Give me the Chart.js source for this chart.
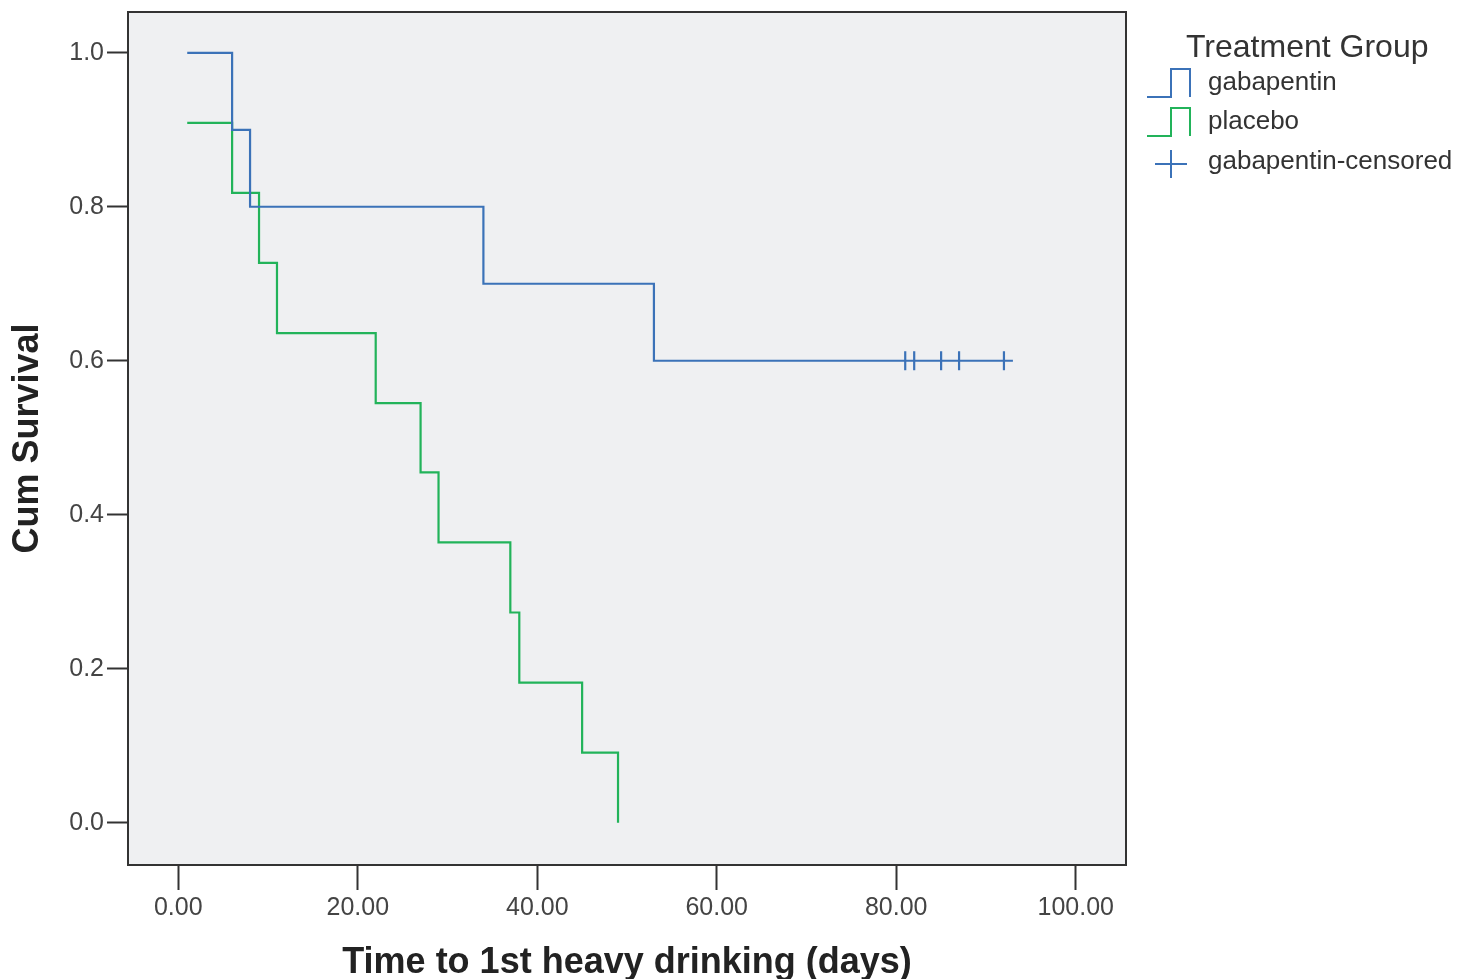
<!DOCTYPE html>
<html>
<head>
<meta charset="utf-8">
<script src="https://cdn.jsdelivr.net/npm/chart.js@4/dist/chart.umd.min.js"></script>
<style>
  html, body { margin: 0; padding: 0; background: #fff; }
  #wrap { width: 1459px; height: 979px; }
</style>
</head>
<body>
<div id="wrap"><canvas id="kmChart" width="1459" height="979"></canvas></div>
<script>
// data
var gabaTimes = [1, 6, 8, 34, 53, 93];
var gabaSurv = [1.0, 0.9, 0.8, 0.7, 0.6, 0.6];
var placeboTimes = [1, 6, 9, 11, 22, 27, 29, 37, 38, 45, 49];
var placeboSurv = [0.909, 0.818, 0.727, 0.636, 0.545, 0.455, 0.364, 0.273, 0.182, 0.091, 0.0];
var censTimes = [81, 82, 85, 87, 92];
var censSurv = [0.6, 0.6, 0.6, 0.6, 0.6];
var xTickVals = [0, 20, 40, 60, 80, 100];
var yTickVals = [0, 0.2, 0.4, 0.6, 0.8, 1.0];
var seriesNames = ["gabapentin", "placebo", "gabapentin-censored"];
var legendTitle = "Treatment Group";

var BLUE = "#3b72b8";
var GREEN = "#22b35a";
var AXIS = "#333333";
var FONT = "'Liberation Sans', Arial, Helvetica, sans-serif";

function pts(xs, ys) {
        return xs.map(function (x, i) { return { x: x, y: ys[i] }; });
}

// plot background + box + legend
var kmDecor = {
  id: 'kmDecor',
  beforeDatasetsDraw: function (chart) {
        var a = chart.chartArea, ctx = chart.ctx;
        ctx.save();
        ctx.fillStyle = "#eff0f2";
        ctx.fillRect(a.left, a.top, a.right - a.left, a.bottom - a.top);
        ctx.restore();
  },
  afterDraw: function (chart) {
        var a = chart.chartArea, ctx = chart.ctx;
        ctx.save();
        ctx.strokeStyle = AXIS;
        ctx.lineWidth = 2;
        ctx.strokeRect(a.left, a.top, a.right - a.left, a.bottom - a.top);

        // legend
        ctx.fillStyle = "#333";
        ctx.textBaseline = "middle";
        ctx.textAlign = "left";
        ctx.font = "32px " + FONT;
        ctx.fillText(legendTitle, 1186, 48);

        ctx.font = "26px " + FONT;
        var rows = [83, 122, 162];
        var colors = [BLUE, GREEN, BLUE];
        for (var i = 0; i < 3; i++) {
                var cy = rows[i];
                ctx.strokeStyle = colors[i];
                ctx.lineWidth = 2;
                ctx.beginPath();
                if (i < 2) {
                        ctx.moveTo(1147, cy + 14);
                        ctx.lineTo(1171, cy + 14);
                        ctx.lineTo(1171, cy - 14);
                        ctx.lineTo(1190, cy - 14);
                        ctx.lineTo(1190, cy + 14);
                } else {
                        ctx.moveTo(1155, cy + 2);
                        ctx.lineTo(1187, cy + 2);
                        ctx.moveTo(1171, cy - 12);
                        ctx.lineTo(1171, cy + 16);
                }
                ctx.stroke();
                ctx.fillStyle = "#333";
                ctx.fillText(seriesNames[i], 1208, cy);
        }
        ctx.restore();
  }
};

var kmConfig = {
  type: 'scatter',
  data: {
        datasets: [
        {
          label: seriesNames[0],
          data: pts(gabaTimes, gabaSurv),
          showLine: true,
          stepped: 'before',
          borderColor: BLUE,
          borderWidth: 2.2,
          pointRadius: 0
        },
        {
          label: seriesNames[1],
          data: pts(placeboTimes, placeboSurv),
          showLine: true,
          stepped: 'before',
          borderColor: GREEN,
          borderWidth: 2.2,
          pointRadius: 0
        },
        {
          label: seriesNames[2],
          data: pts(censTimes, censSurv),
          showLine: false,
          pointStyle: 'line',
          rotation: 90,
          pointRadius: 9.5,
          borderColor: BLUE,
          backgroundColor: BLUE,
          borderWidth: 2.2
        }
        ]
  },
  options: {
        responsive: false,
        animation: false,
        events: [],
        layout: { padding: { left: 0, top: 12, right: 333, bottom: 0 } },
        plugins: {
          legend: { display: false },
          tooltip: { enabled: false }
        },
        scales: {
          x: {
                type: 'linear',
                min: -5.6,
                max: 105.6,
                afterBuildTicks: function (s) { s.ticks = xTickVals.map(function (v) { return { value: v }; }); },
                afterFit: function (s) { s.height = 114; s.paddingLeft = 0; s.paddingRight = 0; },
                border: { display: false },
                grid: { drawOnChartArea: false, drawTicks: true, tickLength: 25, tickColor: AXIS, tickWidth: 2 },
                ticks: {
                  color: "#444",
                  font: { family: FONT, size: 25 },
                  padding: 3,
                  maxRotation: 0,
                  callback: function (v) { return v.toFixed(2); }
                },
                title: {
                  display: true,
                  text: "Time to 1st heavy drinking (days)",
                  color: "#222",
                  font: { family: FONT, size: 36, weight: 'bold', lineHeight: 0.9 },
                  padding: { top: 0, bottom: 0 }
                }
          },
          y: {
                type: 'linear',
                min: -0.055,
                max: 1.053,
                afterBuildTicks: function (s) { s.ticks = yTickVals.map(function (v) { return { value: v }; }); },
                afterFit: function (s) { s.width = 128; s.paddingTop = 0; s.paddingBottom = 0; },
                border: { display: false },
                grid: { drawOnChartArea: false, drawTicks: true, tickLength: 21, tickColor: AXIS, tickWidth: 2 },
                ticks: {
                  color: "#444",
                  font: { family: FONT, size: 25 },
                  padding: 3,
                  callback: function (v) { return v.toFixed(1); }
                },
                title: {
                  display: true,
                  text: "Cum Survival",
                  color: "#222",
                  font: { family: FONT, size: 36, weight: 'bold', lineHeight: 1 },
                  padding: { top: 10, bottom: 0 }
                }
          }
        }
  },
  plugins: [kmDecor]
};

var ctx = document.getElementById("kmChart").getContext("2d");
var kmChart = new Chart(ctx, kmConfig);
</script>
</body>
</html>
